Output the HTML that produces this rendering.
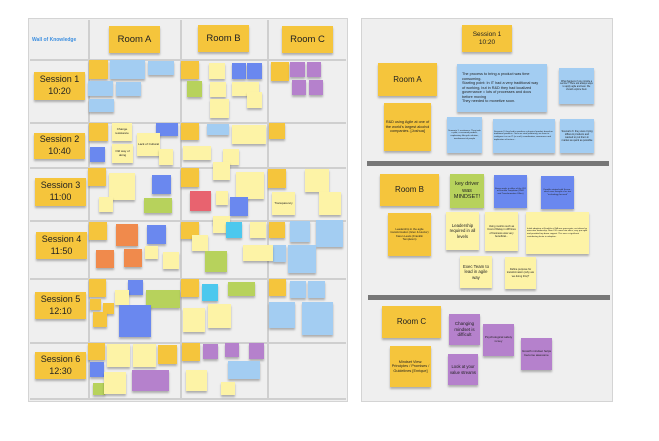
<!DOCTYPE html>
<html><head><meta charset="utf-8"><style>
*{margin:0;padding:0;box-sizing:border-box}
body{width:659px;height:441px;background:#fff;position:relative;overflow:hidden;font-family:"Liberation Sans",sans-serif;color:#222}
div{position:absolute}
.bd{background:#efefef;border:1.5px solid #d4d4d4}
.vl{background:#cfcfcf;width:1.5px}
.hl{background:#cfcfcf;height:1.5px}
.n{box-shadow:0 2px 2px rgba(0,0,0,.28);display:flex;align-items:center;justify-content:center;text-align:center;line-height:1.2;font-size:3px;padding:1px;overflow:hidden}
.y{background:#f5c53c}.l{background:#fdf3a6}.b{background:#a3cdf2}.d{background:#6a88ef}.p{background:#b581cc}.o{background:#f08a4c}.g{background:#b7d25c}.r{background:#e8636f}.c{background:#4cc8ee}
.big{font-size:9.5px}
.ses{font-size:9px;line-height:1.3}
</style></head><body>
<!-- left board -->
<div class="bd" style="left:28px;top:18px;width:320px;height:384px"></div>
<div class="vl" style="left:88px;top:20px;height:380px"></div>
<div class="vl" style="left:180px;top:20px;height:380px"></div>
<div class="vl" style="left:267px;top:20px;height:380px"></div>
<div class="hl" style="left:30px;top:59px;width:316px"></div>
<div class="hl" style="left:30px;top:122px;width:316px"></div>
<div class="hl" style="left:30px;top:167px;width:316px"></div>
<div class="hl" style="left:30px;top:220px;width:316px"></div>
<div class="hl" style="left:30px;top:278px;width:316px"></div>
<div class="hl" style="left:30px;top:342px;width:316px"></div>
<div class="hl" style="left:30px;top:398px;width:316px"></div>
<div style="left:32px;top:37px;font-size:5px;font-weight:bold;color:#3d8fe0">Wall of Knowledge</div>
<div class="n y big" style="left:109px;top:26px;width:51px;height:27px">Room A</div>
<div class="n y big" style="left:198px;top:25px;width:51px;height:27px">Room B</div>
<div class="n y big" style="left:282px;top:26px;width:51px;height:27px">Room C</div>
<div class="n y ses" style="left:34px;top:72px;width:51px;height:28px">Session 1<br>10:20</div>
<div class="n y ses" style="left:34px;top:133px;width:51px;height:26px">Session 2<br>10:40</div>
<div class="n y ses" style="left:35px;top:178px;width:51px;height:28px">Session 3<br>11:00</div>
<div class="n y ses" style="left:36px;top:232px;width:51px;height:27px">Session 4<br>11:50</div>
<div class="n y ses" style="left:35px;top:292px;width:51px;height:27px">Session 5<br>12:10</div>
<div class="n y ses" style="left:35px;top:352px;width:51px;height:27px">Session 6<br>12:30</div>
<!-- S1 -->
<div class="n y" style="left:89px;top:60px;width:19px;height:19px"></div>
<div class="n b" style="left:110px;top:60px;width:35px;height:19px"></div>
<div class="n b" style="left:148px;top:61px;width:26px;height:14px"></div>
<div class="n b" style="left:88px;top:81px;width:25px;height:15px"></div>
<div class="n b" style="left:116px;top:82px;width:25px;height:14px"></div>
<div class="n b" style="left:89px;top:99px;width:25px;height:13px"></div>
<div class="n y" style="left:181px;top:61px;width:18px;height:18px"></div>
<div class="n l" style="left:209px;top:63px;width:16px;height:16px"></div>
<div class="n d" style="left:232px;top:63px;width:14px;height:16px"></div>
<div class="n d" style="left:247px;top:63px;width:15px;height:16px"></div>
<div class="n g" style="left:187px;top:81px;width:15px;height:16px"></div>
<div class="n l" style="left:210px;top:82px;width:16px;height:15px"></div>
<div class="n l" style="left:232px;top:82px;width:27px;height:14px"></div>
<div class="n l" style="left:247px;top:92px;width:15px;height:16px"></div>
<div class="n l" style="left:210px;top:99px;width:19px;height:19px"></div>
<div class="n y" style="left:271px;top:62px;width:18px;height:19px"></div>
<div class="n p" style="left:290px;top:62px;width:15px;height:15px"></div>
<div class="n p" style="left:307px;top:62px;width:14px;height:15px"></div>
<div class="n p" style="left:292px;top:80px;width:14px;height:15px"></div>
<div class="n p" style="left:309px;top:80px;width:14px;height:15px"></div>
<!-- S2 -->
<div class="n y" style="left:89px;top:123px;width:19px;height:18px"></div>
<div class="n l" style="left:112px;top:123px;width:20px;height:18px">Change resistance</div>
<div class="n d" style="left:156px;top:123px;width:22px;height:13px"></div>
<div class="n l" style="left:137px;top:133px;width:23px;height:23px">Lack of Cultural</div>
<div class="n d" style="left:90px;top:147px;width:15px;height:15px"></div>
<div class="n l" style="left:112px;top:144px;width:21px;height:19px">Old way of doing</div>
<div class="n l" style="left:159px;top:149px;width:14px;height:16px"></div>
<div class="n y" style="left:181px;top:123px;width:18px;height:17px"></div>
<div class="n b" style="left:207px;top:124px;width:22px;height:11px"></div>
<div class="n l" style="left:232px;top:125px;width:34px;height:19px"></div>
<div class="n l" style="left:183px;top:146px;width:28px;height:14px"></div>
<div class="n l" style="left:223px;top:149px;width:16px;height:16px"></div>
<div class="n y" style="left:269px;top:123px;width:16px;height:16px"></div>
<!-- S3 -->
<div class="n y" style="left:88px;top:168px;width:18px;height:18px"></div>
<div class="n l" style="left:109px;top:173px;width:26px;height:27px"></div>
<div class="n d" style="left:152px;top:175px;width:19px;height:19px"></div>
<div class="n l" style="left:99px;top:197px;width:14px;height:15px"></div>
<div class="n g" style="left:144px;top:198px;width:28px;height:15px"></div>
<div class="n y" style="left:181px;top:168px;width:18px;height:19px"></div>
<div class="n l" style="left:213px;top:162px;width:17px;height:18px"></div>
<div class="n l" style="left:236px;top:172px;width:28px;height:27px"></div>
<div class="n r" style="left:190px;top:191px;width:21px;height:20px"></div>
<div class="n l" style="left:216px;top:191px;width:12px;height:14px"></div>
<div class="n d" style="left:230px;top:197px;width:18px;height:19px"></div>
<div class="n l" style="left:213px;top:216px;width:17px;height:8px"></div>
<div class="n y" style="left:268px;top:169px;width:18px;height:19px"></div>
<div class="n l" style="left:305px;top:169px;width:24px;height:23px"></div>
<div class="n l" style="left:272px;top:192px;width:23px;height:23px">Transparency</div>
<div class="n l" style="left:319px;top:192px;width:22px;height:23px"></div>
<!-- S4 -->
<div class="n y" style="left:89px;top:222px;width:18px;height:18px"></div>
<div class="n o" style="left:116px;top:224px;width:22px;height:22px"></div>
<div class="n d" style="left:147px;top:225px;width:19px;height:19px"></div>
<div class="n o" style="left:96px;top:250px;width:18px;height:18px"></div>
<div class="n o" style="left:124px;top:249px;width:18px;height:18px"></div>
<div class="n l" style="left:145px;top:246px;width:13px;height:13px"></div>
<div class="n l" style="left:163px;top:252px;width:16px;height:17px"></div>
<div class="n y" style="left:181px;top:222px;width:18px;height:17px"></div>
<div class="n l" style="left:213px;top:220px;width:14px;height:13px"></div>
<div class="n c" style="left:226px;top:222px;width:16px;height:16px"></div>
<div class="n l" style="left:192px;top:235px;width:16px;height:16px"></div>
<div class="n l" style="left:250px;top:222px;width:16px;height:16px"></div>
<div class="n g" style="left:205px;top:251px;width:22px;height:21px"></div>
<div class="n b" style="left:273px;top:245px;width:13px;height:17px"></div>
<div class="n l" style="left:243px;top:245px;width:30px;height:16px"></div>
<div class="n y" style="left:269px;top:222px;width:16px;height:16px"></div>
<div class="n b" style="left:290px;top:221px;width:20px;height:21px"></div>
<div class="n b" style="left:316px;top:220px;width:27px;height:27px"></div>
<div class="n b" style="left:288px;top:245px;width:28px;height:28px"></div>
<!-- S5 -->
<div class="n y" style="left:89px;top:279px;width:17px;height:18px"></div>
<div class="n d" style="left:128px;top:280px;width:15px;height:15px"></div>
<div class="n l" style="left:115px;top:290px;width:14px;height:15px"></div>
<div class="n g" style="left:146px;top:290px;width:34px;height:18px"></div>
<div class="n y" style="left:90px;top:299px;width:11px;height:11px"></div>
<div class="n y" style="left:103px;top:303px;width:11px;height:11px"></div>
<div class="n y" style="left:93px;top:312px;width:14px;height:15px"></div>
<div class="n d" style="left:119px;top:305px;width:32px;height:32px"></div>
<div class="n y" style="left:181px;top:279px;width:18px;height:18px"></div>
<div class="n c" style="left:202px;top:284px;width:16px;height:17px"></div>
<div class="n g" style="left:228px;top:282px;width:27px;height:14px"></div>
<div class="n l" style="left:183px;top:308px;width:22px;height:24px"></div>
<div class="n l" style="left:208px;top:304px;width:23px;height:24px"></div>
<div class="n y" style="left:269px;top:279px;width:17px;height:17px"></div>
<div class="n b" style="left:290px;top:281px;width:16px;height:17px"></div>
<div class="n b" style="left:308px;top:281px;width:17px;height:17px"></div>
<div class="n b" style="left:269px;top:302px;width:26px;height:26px"></div>
<div class="n b" style="left:302px;top:302px;width:31px;height:33px"></div>
<!-- S6 -->
<div class="n y" style="left:88px;top:343px;width:17px;height:17px"></div>
<div class="n l" style="left:107px;top:344px;width:23px;height:23px"></div>
<div class="n l" style="left:133px;top:344px;width:23px;height:23px"></div>
<div class="n y" style="left:158px;top:345px;width:19px;height:19px"></div>
<div class="n d" style="left:90px;top:362px;width:14px;height:15px"></div>
<div class="n g" style="left:93px;top:383px;width:12px;height:12px"></div>
<div class="n l" style="left:104px;top:372px;width:22px;height:22px"></div>
<div class="n p" style="left:132px;top:370px;width:37px;height:21px"></div>
<div class="n y" style="left:182px;top:343px;width:18px;height:18px"></div>
<div class="n p" style="left:203px;top:344px;width:15px;height:15px"></div>
<div class="n p" style="left:225px;top:343px;width:14px;height:14px"></div>
<div class="n p" style="left:249px;top:343px;width:15px;height:16px"></div>
<div class="n b" style="left:228px;top:361px;width:32px;height:18px"></div>
<div class="n l" style="left:186px;top:370px;width:21px;height:21px"></div>
<div class="n l" style="left:221px;top:382px;width:14px;height:13px"></div>

<!-- right panel -->
<div class="bd" style="left:361px;top:18px;width:252px;height:384px"></div>
<div style="left:367px;top:161px;width:242px;height:5px;background:#777"></div>
<div style="left:368px;top:295px;width:242px;height:5px;background:#777"></div>
<div class="n y" style="left:462px;top:25px;width:50px;height:27px;font-size:6.5px">Session 1<br>10:20</div>
<div class="n y" style="left:378px;top:63px;width:59px;height:33px;font-size:8px">Room A</div>
<div class="n y" style="left:384px;top:103px;width:47px;height:48px;font-size:3.8px">R&amp;D using Agile at one of the world's largest alcohol companies. [Joshua]</div>
<div class="n b" style="left:457px;top:64px;width:90px;height:48px;font-size:3.8px;text-align:left;justify-content:flex-start;padding:3px 5px">The process to bring a product was time consuming.<br>Starting point: In IT had a very traditional way of working, but in R&amp;D they had localized governance = lots of processes and docs before moving<br>They needed to monetize soon.</div>
<div class="n b" style="left:559px;top:68px;width:35px;height:36px;font-size:2.3px">What happens if you provide a service? There are always ways to apply agile and lean. We should explore them</div>
<div class="n b" style="left:447px;top:117px;width:35px;height:36px;font-size:2.2px">Scenario 1: resistance. They took a pilot, a seasonal product, exploratory lifecycle solution, involvement of people</div>
<div class="n b" style="left:493px;top:119px;width:62px;height:34px;font-size:2.2px;text-align:left">Scenario 2: they had to produce a physical product based on traditional products. Once we start producing, we have to configure it as an IT (or such) coordination, awareness and implication of testers...</div>
<div class="n b" style="left:560px;top:119px;width:34px;height:34px;font-size:2.5px">Scenario 3: they were trying different products and wanted to put them in market as quick as possible</div>
<div class="n y" style="left:380px;top:174px;width:59px;height:32px;font-size:8px">Room B</div>
<div class="n g" style="left:450px;top:174px;width:34px;height:34px;font-size:5.5px">key driver was MINDSET!</div>
<div class="n d" style="left:494px;top:175px;width:33px;height:33px;font-size:2.2px">Karen works in office of the CIO at Franklin Templeton (PMO and Transformation Office)</div>
<div class="n d" style="left:541px;top:176px;width:33px;height:33px;font-size:2.2px">Franklin started with Scrum - which was thought of as too "technology focused"</div>
<div class="n y" style="left:388px;top:213px;width:43px;height:43px;font-size:2.8px">Leadership in the agile transformation (Glen &amp; Hector) Karen Lewis (Franklin Templeton)</div>
<div class="n l" style="left:446px;top:212px;width:33px;height:38px;font-size:4.3px">Leadership required in all levels</div>
<div class="n l" style="left:485px;top:212px;width:33px;height:39px;font-size:2.6px">Using metrics such as Cost of Delay in diff lines of business was very beneficial...</div>
<div class="n l" style="left:526px;top:212px;width:63px;height:42px;font-size:2.2px;text-align:left">Initial adoption at Franklin of DA was grassroots, not driven by executive leadership. New CIO came into office, very pro agile and provided top down support. This was a significant contributing factor in adoption.</div>
<div class="n l" style="left:460px;top:256px;width:32px;height:32px;font-size:4.3px">Exec Team to lead in agile way</div>
<div class="n l" style="left:505px;top:257px;width:31px;height:32px;font-size:2.6px">Define purpose for transformation (why are we doing this)?</div>
<div class="n y" style="left:382px;top:306px;width:59px;height:32px;font-size:8px">Room C</div>
<div class="n y" style="left:390px;top:346px;width:41px;height:41px;font-size:3.8px">Mindset View: Principles / Promises / Guidelines [Enrique]</div>
<div class="n p" style="left:449px;top:314px;width:31px;height:31px;font-size:4.5px">Changing mindset is difficult</div>
<div class="n p" style="left:448px;top:354px;width:30px;height:31px;font-size:4.2px">Look at your value streams</div>
<div class="n p" style="left:483px;top:324px;width:31px;height:32px;font-size:3px">Psychological safety is key</div>
<div class="n p" style="left:521px;top:338px;width:31px;height:32px;font-size:3px">Growth mindset helps become awesome</div>
</body></html>
